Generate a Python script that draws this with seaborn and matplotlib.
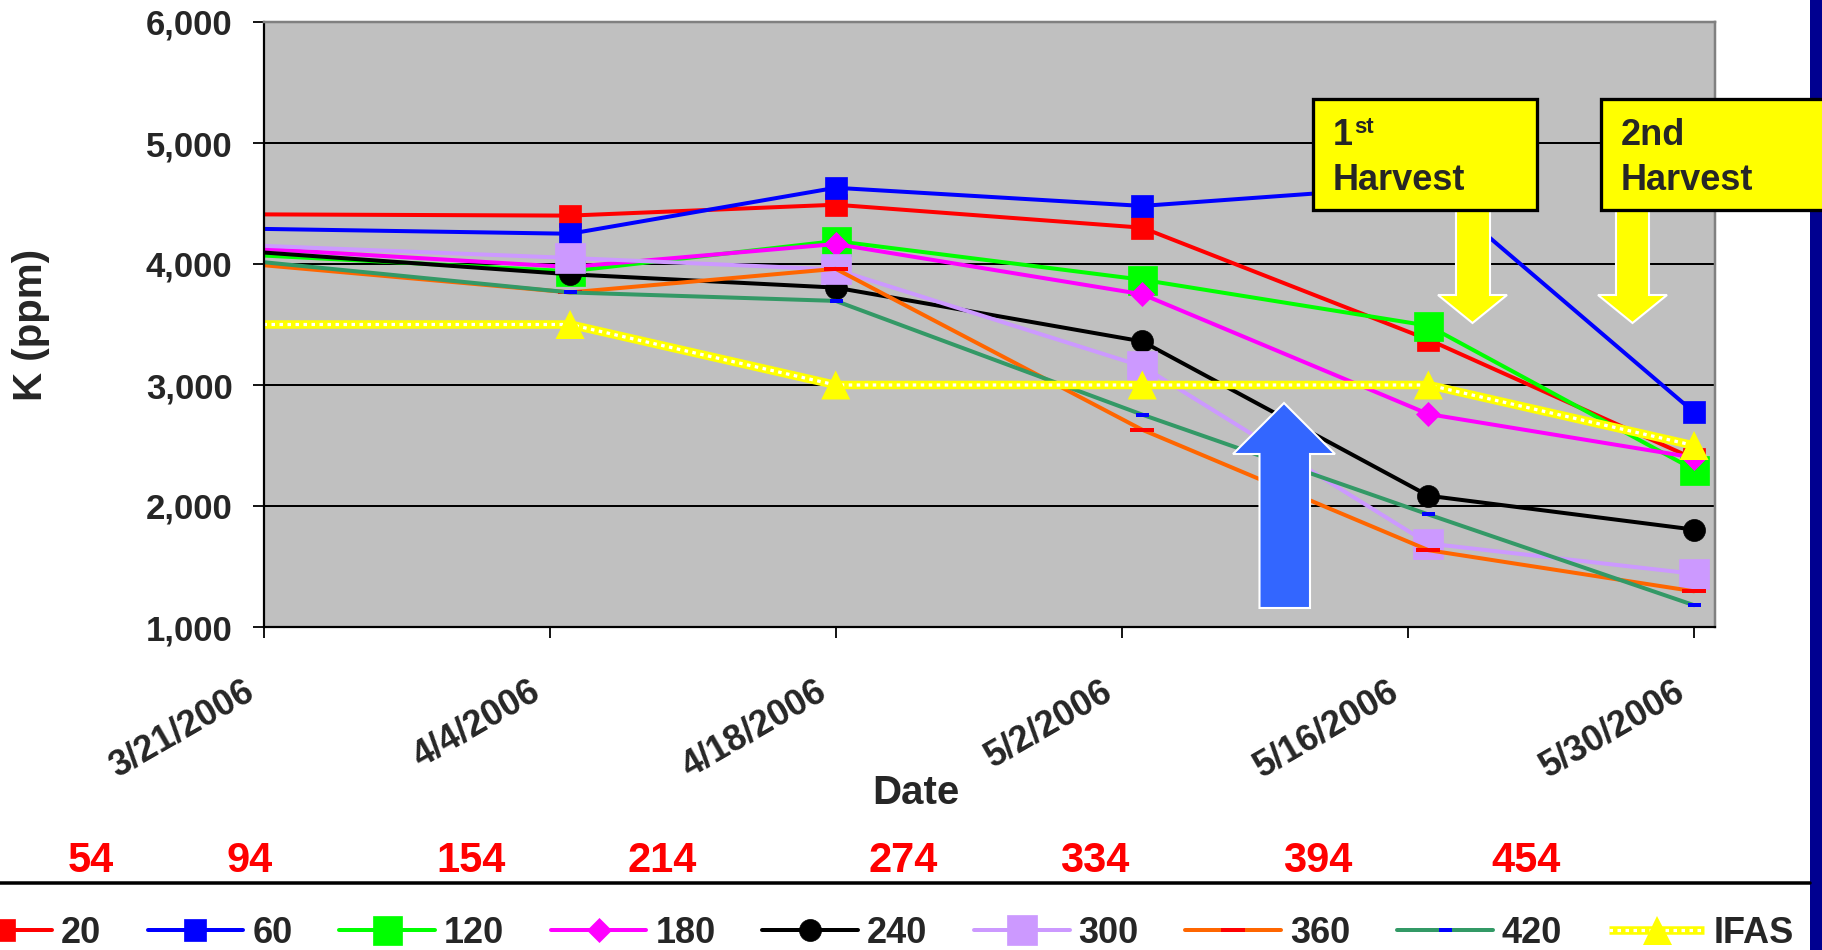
import numpy as np
import pandas as pd
import matplotlib
matplotlib.use("Agg")
import matplotlib.pyplot as plt
import seaborn as sns
from matplotlib.lines import Line2D
from matplotlib.patches import Polygon, Rectangle
from matplotlib.transforms import ScaledTranslation

# ---- data -------------------------------------------------------------
sample_dates = ["2006-03-21", "2006-04-05", "2006-04-18", "2006-05-03", "2006-05-17", "2006-05-30"]

k_20 = [4410, 4400, 4490, 4300, 3375, 2390]
k_60 = [4290, 4250, 4630, 4480, 4650, 2775]
k_120 = [4070, 3940, 4190, 3870, 3490, 2300]
k_180 = [4125, 3975, 4165, 3750, 2760, 2400]
k_240 = [4095, 3915, 3805, 3360, 2085, 1805]
k_300 = [4150, 4050, 3955, 3155, 1690, 1440]
k_360 = [3990, 3765, 3960, 2630, 1635, 1295]
k_420 = [4015, 3765, 3695, 2755, 1930, 1180]
k_ifas = [3500, 3500, 3000, 3000, 3000, 2500]

series_names = ["20", "60", "120", "180", "240", "300", "360", "420"]
series_values = [k_20, k_60, k_120, k_180, k_240, k_300, k_360, k_420]

tick_dates = ["3/21/2006", "4/4/2006", "4/18/2006", "5/2/2006", "5/16/2006", "5/30/2006"]
y_ticks = [1000, 2000, 3000, 4000, 5000, 6000]
day_labels = ["54", "94", "154", "214", "274", "334", "394", "454"]

# ---- layout helpers (pixel -> figure fraction) ------------------------
W, H = 1822, 950
def fx(px):
    return px / W
def fy(py):
    return 1 - py / H
PT = 0.72  # points per pixel at 100 dpi

sns.set_style("white")
plt.rcParams["font.family"] = ["Liberation Sans", "DejaVu Sans"]
plt.rcParams["font.weight"] = "bold"

fig = plt.figure(figsize=(W / 100, H / 100), dpi=100)
fig.patch.set_facecolor("white")
ax = fig.add_axes([fx(263.5), fy(627), fx(1714.5) - fx(263.5), fy(22) - fy(627)])
ax.set_facecolor("#C0C0C0")

start = pd.Timestamp(sample_dates[0])
days = (pd.to_datetime(sample_dates) - start).days.to_numpy().astype(float)
tick_days = (pd.to_datetime(tick_dates, format="%m/%d/%Y") - start).days.to_numpy()

styles = {
    "20":  dict(color="#FF0000", marker="s", markersize=22 * PT, markerfacecolor="#FF0000", markeredgecolor="#FF0000", markeredgewidth=0.5),
    "60":  dict(color="#0000FF", marker="s", markersize=22 * PT, markerfacecolor="#0000FF", markeredgecolor="#0000FF", markeredgewidth=0.5),
    "120": dict(color="#00FF00", marker="s", markersize=29 * PT, markerfacecolor="#00FF00", markeredgecolor="#00FF00", markeredgewidth=0.5),
    "180": dict(color="#FF00FF", marker="D", markersize=17 * PT, markerfacecolor="#FF00FF", markeredgecolor="#FF00FF", markeredgewidth=0.5),
    "240": dict(color="#000000", marker="o", markersize=22 * PT, markerfacecolor="#000000", markeredgecolor="#000000", markeredgewidth=0.5),
    "300": dict(color="#CC99FF", marker="s", markersize=30 * PT, markerfacecolor="#CC99FF", markeredgecolor="#CC99FF", markeredgewidth=0.5),
    "360": dict(color="#FF6600", marker="_", markersize=24 * PT, markerfacecolor="#FF0000", markeredgecolor="#FF0000", markeredgewidth=4 * PT),
    "420": dict(color="#339966", marker="_", markersize=13 * PT, markerfacecolor="#0000FF", markeredgecolor="#0000FF", markeredgewidth=4 * PT),
}
LW = 4 * PT
mark_idx = list(range(1, len(days)))

for name, vals in zip(series_names, series_values):
    st = styles[name]
    sns.lineplot(x=days, y=vals, ax=ax, linewidth=LW, markevery=mark_idx,
                 legend=False, sort=True, **st)

# IFAS recommendation: yellow band with white dots and triangle markers
sns.lineplot(x=days, y=k_ifas, ax=ax, color="#FFFF00", linewidth=8.5 * PT,
             legend=False, solid_capstyle="butt")
sns.lineplot(x=days, y=k_ifas, ax=ax, color="white", linewidth=3.2 * PT,
             linestyle=(0, (1.1, 1.4)), legend=False, dash_capstyle="butt")
sns.scatterplot(x=days[1:], y=k_ifas[1:], ax=ax, marker="^", s=(29 * PT) ** 2,
                color="#FFFF00", edgecolor="none", linewidth=0, legend=False, zorder=3)

# ---- axes styling -----------------------------------------------------
ax.set_xlim(0, 71.0)
ax.set_ylim(1000, 6000)
ax.set_yticks(y_ticks)
ax.set_yticklabels([f"{v:,}" for v in y_ticks])
ax.yaxis.grid(True, color="black", linewidth=2 * PT)
ax.xaxis.grid(False)
ax.set_axisbelow(True)
for side in ["left", "bottom"]:
    ax.spines[side].set_color("black")
    ax.spines[side].set_linewidth(2.2 * PT)
for side in ["top", "right"]:
    ax.spines[side].set_color("#808080")
    ax.spines[side].set_linewidth(2.5 * PT)

ax.tick_params(axis="both", direction="out", length=11.5 * PT, width=1.8 * PT,
               color="black", left=True, bottom=True)
ax.tick_params(axis="y", labelsize=25, pad=14)
ax.set_xticks(tick_days)
ax.set_xticklabels(tick_dates, rotation=30, ha="right", va="top",
                   rotation_mode="anchor", fontsize=26)
ax.tick_params(axis="x", pad=0)
shift = ScaledTranslation(-21 / 100, -35 / 100, fig.dpi_scale_trans)
for lab in ax.get_xticklabels():
    lab.set_transform(lab.get_transform() + shift)

ax.set_xlabel("Date", fontsize=29, fontweight="bold")
ax.xaxis.label.set_va("center")
ax.xaxis.set_label_coords((915.7 - 263.5) / 1451.0, (627 - 793) / 605.0)
ax.set_ylabel("K (ppm)", fontsize=29, fontweight="bold")
ax.yaxis.label.set_va("center")
ax.yaxis.set_label_coords((31 - 263.5) / 1451.0, 0.5)

# ---- annotations --------------------------------------------------------
def arrow_down(xl, xr, hl, hr, top, base, tip):
    xc = (hl + hr) / 2
    pts = [(xl, top), (xr, top), (xr, base), (hr, base), (xc, tip), (hl, base), (xl, base)]
    return [(fx(x), fy(y)) for x, y in pts]

for xl, xr, hl, hr in [(1456, 1490, 1438, 1507), (1616, 1649, 1598, 1667)]:
    fig.add_artist(Polygon(arrow_down(xl, xr, hl, hr, 208, 295, 323), closed=True,
                           transform=fig.transFigure, facecolor="#FFFF00",
                           edgecolor="white", linewidth=1.5, zorder=4))

up = [(1259.5, 608), (1310, 608), (1310, 454), (1335, 454), (1284, 403), (1233, 454), (1259.5, 454)]
fig.add_artist(Polygon([(fx(x), fy(y)) for x, y in up], closed=True,
                       transform=fig.transFigure, facecolor="#3366FF",
                       edgecolor="white", linewidth=1.5, zorder=4))

# right-hand navy bar
fig.add_artist(Rectangle((fx(1810), 0), 1 - fx(1810) + 0.01, 1, transform=fig.transFigure,
                         facecolor="#000090", edgecolor="none", zorder=3))

for left, right in [(1313, 1537), (1601, 1840)]:
    fig.add_artist(Rectangle((fx(left), fy(210)), fx(right) - fx(left), fy(99) - fy(210),
                             transform=fig.transFigure, facecolor="#FFFF00",
                             edgecolor="black", linewidth=3.3 * PT, zorder=5))

fig.text(fx(1333), fy(145), "1", fontsize=26, fontweight="bold", va="baseline", ha="left", zorder=6)
fig.text(fx(1354), fy(133), "st", fontsize=16, fontweight="bold", va="baseline", ha="left", zorder=6)
fig.text(fx(1333), fy(190), "Harvest", fontsize=26, fontweight="bold", va="baseline", ha="left", zorder=6)
fig.text(fx(1621), fy(145), "2nd", fontsize=26, fontweight="bold", va="baseline", ha="left", zorder=6)
fig.text(fx(1621), fy(190), "Harvest", fontsize=26, fontweight="bold", va="baseline", ha="left", zorder=6)

# red day counters and separator rule
label_x = [90.6, 250, 471, 662, 903, 1095, 1318, 1526]
for lx, txt in zip(label_x, day_labels):
    fig.text(fx(lx), fy(860.5), txt, color="#FF0000", fontsize=30, fontweight="bold",
             ha="center", va="center")
fig.add_artist(Line2D([0, fx(1810)], [fy(883), fy(883)], transform=fig.transFigure,
                      color="black", linewidth=3.5 * PT, zorder=3))

# ---- legend -------------------------------------------------------------
handles = []
for name in series_names:
    handles.append(Line2D([], [], linewidth=LW, **styles[name]))
ifas_handle = (
    Line2D([], [], color="#FFFF00", linewidth=8.5 * PT, solid_capstyle="butt"),
    Line2D([], [], color="white", linewidth=3.2 * PT, linestyle=(0, (1.1, 1.4))),
    Line2D([], [], color="#FFFF00", linestyle="none", marker="^", markersize=29 * PT,
           markeredgewidth=0),
)
handles.append(ifas_handle)
labels = series_names + ["IFAS"]
fig.legend(handles, labels, loc="center left", bbox_to_anchor=(fx(-44), fy(933.5)),
           ncol=9, frameon=False, prop={"size": 26, "weight": "bold"},
           handlelength=2.65, handletextpad=0.25, columnspacing=1.29,
           borderpad=0, borderaxespad=0)

fig.savefig("out.png", dpi=100)
